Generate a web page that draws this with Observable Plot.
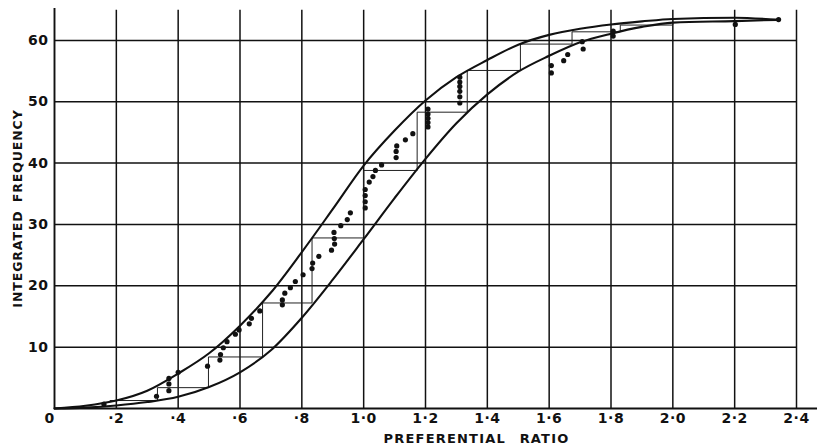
<!DOCTYPE html>
<html>
<head>
<meta charset="utf-8">
<script src="https://cdn.jsdelivr.net/npm/d3@7"></script>
<script src="https://cdn.jsdelivr.net/npm/@observablehq/plot@0.6"></script>
<style>
  html, body { margin: 0; padding: 0; background: #fff; }
  #chart svg { display: block; }
</style>
</head>
<body>
<div id="chart"></div>
<script>
// ---- data ----
const xTicks = [0.2, 0.4, 0.6, 0.8, 1.0, 1.2, 1.4, 1.6, 1.8, 2.0, 2.2, 2.4];
const yTicks = [10, 20, 30, 40, 50, 60];
const xTitle = "PREFERENTIAL RATIO";
const yTitle = "INTEGRATED FREQUENCY";

// observed points
const dotX = [0.16, 0.33, 0.37, 0.37, 0.37, 0.40, 0.495, 0.535, 0.537, 0.546, 0.558, 0.585, 0.597, 0.63, 0.637, 0.664,
  0.737, 0.737, 0.745, 0.763, 0.779, 0.804, 0.833, 0.835, 0.855, 0.896, 0.906, 0.905, 0.904, 0.926, 0.947, 0.957,
  1.005, 1.005, 1.005, 1.005, 1.018, 1.03, 1.038, 1.058, 1.105, 1.105, 1.107, 1.135, 1.159,
  1.208, 1.208, 1.208, 1.208, 1.208, 1.311, 1.311, 1.311, 1.311, 1.311, 1.311,
  1.607, 1.607, 1.647, 1.66, 1.71, 1.707, 1.807, 1.807, 2.202, 2.342];
const dotY = [0.7, 2.0, 2.9, 4.0, 4.9, 5.9, 6.9, 7.9, 8.8, 9.9, 10.9, 12.1, 12.8, 13.8, 14.7, 15.9,
  16.9, 17.7, 18.8, 19.7, 20.7, 21.8, 22.8, 23.7, 24.8, 25.8, 26.8, 27.7, 28.7, 29.8, 30.8, 31.9,
  32.7, 33.7, 34.7, 35.7, 36.9, 37.8, 38.8, 39.7, 40.9, 41.9, 42.8, 43.8, 44.8,
  45.9, 46.6, 47.3, 48.0, 48.8, 49.8, 50.8, 51.7, 52.5, 53.2, 54.0,
  54.7, 55.9, 56.7, 57.7, 58.6, 59.8, 60.7, 61.5, 62.6, 63.4];

// the two limiting curves
const curveX = [0, 0.1, 0.2, 0.3, 0.4, 0.5, 0.6, 0.7, 0.8, 0.9, 1.0, 1.1, 1.2, 1.3, 1.4, 1.5, 1.6, 1.7, 1.8, 1.9, 2.0, 2.2, 2.34];
const upperY = [0, 0.45, 1.3, 2.9, 5.7, 9.0, 13.5, 18.9, 25.5, 32.5, 39.6, 45.3, 50.2, 54.0, 56.8, 59.3, 60.9, 61.9, 62.6, 63.1, 63.5, 63.7, 63.35];
const lowerY = [0, 0.15, 0.5, 1.05, 1.9, 3.5, 5.9, 9.5, 14.8, 21.0, 27.6, 34.3, 40.7, 46.5, 51.2, 54.9, 57.5, 59.7, 61.1, 62.2, 62.9, 63.15, 63.35];

// staircase between the curves
const stepX = [0.18, 0.333, 0.498, 0.673, 0.833, 1.0, 1.173, 1.335, 1.507, 1.674, 1.83, 2.0];
const stepY = [1.3, 3.4, 8.4, 17.2, 27.8, 38.8, 48.3, 55.1, 59.4, 61.4, 62.5, 63.2];

// frame extents
const xMax = 2.4, xAxisEnd = 2.468, yTop = 65.2, gridTop = 64.9;

// ---- build ----
const dots = dotX.map((x, i) => ({x, y: dotY[i]}));
const upper = curveX.map((x, i) => ({x, y: upperY[i]}));
const lower = curveX.map((x, i) => ({x, y: lowerY[i]}));
const steps = stepX.map((x, i) => ({x, y: stepY[i]}));

const fmt = d => {
  const s = d.toFixed(1);
  return s.startsWith("0.") ? "\u00B7" + s.slice(2) : s.replace(".", "\u00B7");
};

const font = "DejaVu Sans";

const chart = Plot.plot({
  width: 818,
  height: 446,
  marginLeft: 54,
  marginRight: 22,
  marginTop: 8,
  marginBottom: 38,
  x: {domain: [0, xMax]},
  y: {domain: [0, yTop]},
  style: {fontFamily: font, fontSize: "14px", fontWeight: "bold", color: "#111", background: "#fff", overflow: "visible"},
  marks: [
    Plot.ruleX(xTicks, {y1: 0, y2: gridTop, stroke: "#111", strokeWidth: 1.5}),
    Plot.ruleY(yTicks, {x1: 0, x2: xMax, stroke: "#111", strokeWidth: 1.5}),
    Plot.ruleX([0], {y1: 0, y2: yTop, stroke: "#111", strokeWidth: 1.9}),
    Plot.ruleY([0], {x1: 0, x2: xAxisEnd, stroke: "#111", strokeWidth: 1.9}),
    Plot.line(steps, {x: "x", y: "y", curve: "step-after", stroke: "#222", strokeWidth: 1}),
    Plot.line(upper, {x: "x", y: "y", curve: "monotone-x", stroke: "#111", strokeWidth: 2.1}),
    Plot.line(lower, {x: "x", y: "y", curve: "monotone-x", stroke: "#111", strokeWidth: 2.1}),
    Plot.dot(dots, {x: "x", y: "y", r: 2.6, fill: "#111", stroke: "none"}),
    Plot.axisX(xTicks, {tickSize: 0, tickPadding: 5, tickFormat: fmt, label: null, fill: "#111"}),
    Plot.axisX([0], {tickSize: 0, tickPadding: 5, tickFormat: () => "0", label: null, dx: -5, fill: "#111"}),
    Plot.axisY(yTicks, {tickSize: 0, tickPadding: 6, label: null, fill: "#111"}),
    Plot.text([xTitle], {frameAnchor: "bottom", textAnchor: "middle", lineAnchor: "middle", dx: 51, dy: 30, fontSize: 13, fontWeight: "bold", fill: "#111"}),
    Plot.text([yTitle], {frameAnchor: "left", textAnchor: "middle", lineAnchor: "middle", rotate: -90, dx: -37, fontSize: 12.5, fontWeight: "bold", fill: "#111"})
  ]
});

d3.select(chart).selectAll("text").each(function() {
  const t = this.textContent;
  if (t === xTitle) {
    this.style.letterSpacing = "1.2px";
    this.style.wordSpacing = "8px";
  } else if (t === yTitle) {
    this.style.letterSpacing = "0.9px";
    this.style.wordSpacing = "3px";
  } else {
    this.style.letterSpacing = "0.5px";
  }
});

document.getElementById("chart").appendChild(chart);
</script>
</body>
</html>
